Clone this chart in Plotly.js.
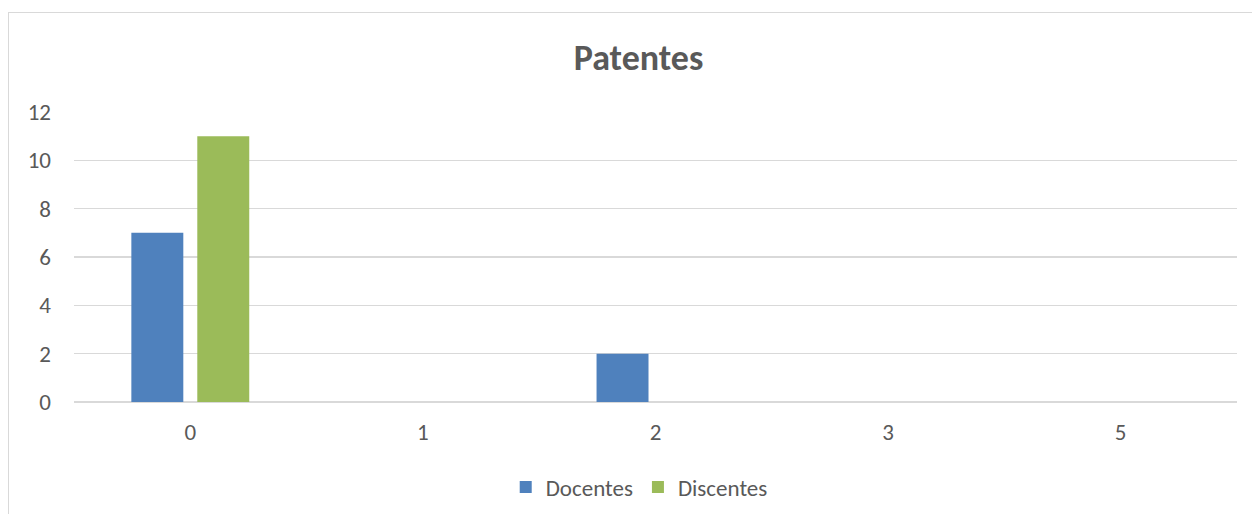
<!DOCTYPE html>
<html>
<head>
<meta charset="utf-8">
<script src="https://cdn.plot.ly/plotly-3.0.1.min.js"></script>
<style>
html,body{margin:0;padding:0;background:#fff;}
#wrap{position:relative;width:1252px;height:514px;overflow:hidden;}
#chart{width:1252px;height:514px;}
#frame{position:absolute;left:8px;top:12px;width:1260px;height:520px;border:1.5px solid #d9d9d9;pointer-events:none;}
</style>
</head>
<body>
<div id="wrap">
<div id="chart"></div>
<div id="frame"></div>
</div>
<script>
const categories = ["0", "1", "2", "3", "5"];
const docentes = [7, 0, 2, 0, 0];
const discentes = [11, 0, 0, 0, 0];
const seriesNames = ["Docentes", "Discentes"];
const chartTitle = "Patentes";

const font = "Calibri, Carlito, 'Open Sans', 'Liberation Sans', sans-serif";

const traces = [
  {type: "bar", name: seriesNames[0], x: categories, y: docentes, marker: {color: "#4f81bd"}},
  {type: "bar", name: seriesNames[1], x: categories, y: discentes, marker: {color: "#9bbb59"}}
];

const layout = {
  width: 1252, height: 514,
  margin: {l: 74, r: 15, t: 112, b: 112, autoexpand: false},
  paper_bgcolor: "#ffffff", plot_bgcolor: "#ffffff",
  barmode: "group", bargap: 0.433, bargroupgap: 0.212,
  font: {family: font, color: "#595959", size: 23},
  title: {text: "<b>" + chartTitle + "</b>", x: 0.51, xanchor: "center", y: 0.889, yanchor: "middle",
          font: {family: font, size: 36, color: "#595959"}},
  xaxis: {type: "category", showgrid: false, zeroline: false, showline: false, ticks: "", automargin: false,
          tickfont: {family: font, size: 23, color: "#595959"}, ticklabelstandoff: 14},
  yaxis: {range: [0, 12], dtick: 2, showgrid: true, gridcolor: "#d9d9d9", gridwidth: 1.5, automargin: false,
          zeroline: true, zerolinecolor: "#d9d9d9", zerolinewidth: 1.5, showline: false, ticks: "",
          tickfont: {family: font, size: 23, color: "#595959"}, ticklabelstandoff: 22},
  legend: {orientation: "h", x: 0.486, xanchor: "center", yref: "container", y: 0.0525, yanchor: "middle",
           font: {family: font, size: 23, color: "#595959"}, itemwidth: 20, tracegroupgap: 0},
  showlegend: true
};

Plotly.newPlot("chart", traces, layout, {displayModeBar: false, staticPlot: true});
</script>
</body>
</html>
